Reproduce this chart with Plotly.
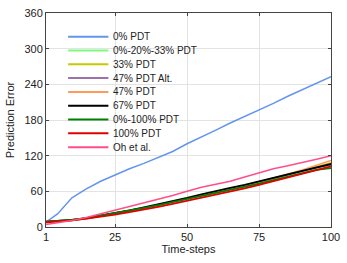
import plotly.graph_objects as go

x = [1, 5, 10, 15, 20, 25, 30, 35, 40, 45, 50, 55, 60, 65, 70, 75, 80, 85, 90, 95, 100]
x_blue = [1, 3, 5, 10, 15, 20, 25, 30, 35, 40, 45, 50, 55, 60, 65, 70, 75, 80, 85, 90, 95, 100]

pdt0 = [8, 15, 22, 49, 64, 77, 88, 98, 107, 117, 127, 140, 151, 163, 175, 186, 196, 208, 220, 231, 242, 253]
pdt_0_20_33 = [9, 10, 12, 15, 19, 23, 27, 32, 37, 42, 47, 53, 58, 63, 68, 74, 80, 86, 92, 97, 101]
pdt33 = [8, 9, 11, 14, 18, 22, 27, 32, 37, 42, 47, 53, 58, 64, 69, 75, 81, 88, 94, 101, 108]
pdt47alt = [8, 9, 11, 15, 19, 23, 27, 32, 37, 42, 48, 54, 59, 64, 70, 76, 82, 88, 94, 100, 104]
pdt47 = [7, 9, 11, 14, 18, 22, 27, 32, 37, 42, 48, 54, 59, 64, 70, 76, 82, 89, 96, 104, 112]
pdt67 = [9, 10, 12, 15, 19, 23, 28, 33, 38, 43, 49, 55, 61, 66, 71, 77, 83, 89, 95, 101, 106]
pdt_0_100 = [9, 10, 12, 15, 19, 23, 27, 32, 37, 42, 47, 52, 57, 62, 67, 73, 79, 85, 91, 96, 99]
pdt100 = [8, 9, 11, 14, 17, 21, 25, 29, 34, 39, 44, 49, 54, 59, 65, 71, 77, 83, 89, 96, 102]
oh = [4, 7, 11, 16, 22, 28, 34, 40, 46, 53, 60, 67, 72, 77, 84, 91, 98, 103, 108, 114, 120]

x_ticks = [1, 25, 50, 75, 100]
y_ticks = [0, 60, 120, 180, 240, 300, 360]

series = [
    ("0% PDT", x_blue, pdt0, "#6495ED", 1.5),
    ("0%-20%-33% PDT", x, pdt_0_20_33, "#7CFC7C", 1.8),
    ("33% PDT", x, pdt33, "#C8C800", 1.5),
    ("47% PDT Alt.", x, pdt47alt, "#A070A8", 1.5),
    ("47% PDT", x, pdt47, "#FF9A5A", 1.5),
    ("67% PDT", x, pdt67, "#000000", 1.8),
    ("0%-100% PDT", x, pdt_0_100, "#008000", 1.8),
    ("100% PDT", x, pdt100, "#E00000", 1.8),
    ("Oh et al.", x, oh, "#FF4F88", 1.5),
]

fig = go.Figure()
for name, xs, ys, c, w in series:
    fig.add_trace(go.Scatter(x=xs, y=ys, mode="lines", name=name,
                             line=dict(color=c, width=w), showlegend=False))

# legend drawn inside the plot, top-left (paper coordinates)
W_PLOT, H_PLOT, L, T = 290, 220, 46, 7
def px_to_paper_x(px):
    return (px - L) / W_PLOT
def py_to_paper_y(py):
    return (T + H_PLOT - py) / H_PLOT

for i, (name, xs, ys, c, w) in enumerate(series):
    py = 31.3 + 14.2 * i
    yp = py_to_paper_y(py)
    fig.add_shape(type="line", xref="paper", yref="paper",
                  x0=px_to_paper_x(68.5), x1=px_to_paper_x(109.5), y0=yp, y1=yp,
                  line=dict(color=c, width=2))
    fig.add_annotation(xref="paper", yref="paper", x=px_to_paper_x(112.5), y=yp,
                       xanchor="left", yanchor="middle", text=name, showarrow=False,
                       font=dict(size=10, color="#222222"))

axis_common = dict(showgrid=True, gridcolor="#E3E3E3", gridwidth=1,
                   showline=True, linecolor="#444444", linewidth=1, mirror="ticks",
                   ticks="inside", ticklen=3, tickcolor="#444444", zeroline=False,
                   tickfont=dict(size=11, color="#222222"))
fig.update_layout(
    width=347, height=263,
    margin=dict(l=46, r=11, t=7, b=36),
    paper_bgcolor="white", plot_bgcolor="white",
    font=dict(family="Liberation Sans, Arial, sans-serif", size=11, color="#222222"),
    showlegend=False,
    xaxis=dict(range=[1, 100], tickvals=x_ticks,
               title=dict(text="Time-steps", standoff=3, font=dict(size=11)), **axis_common),
    yaxis=dict(range=[0, 360], tickvals=y_ticks,
               title=dict(text="Prediction Error", standoff=7, font=dict(size=11)), **axis_common),
)
fig.write_html("out.html", config={"displayModeBar": False},
               post_script="document.body.style.margin='0';document.body.style.overflow='hidden';")
